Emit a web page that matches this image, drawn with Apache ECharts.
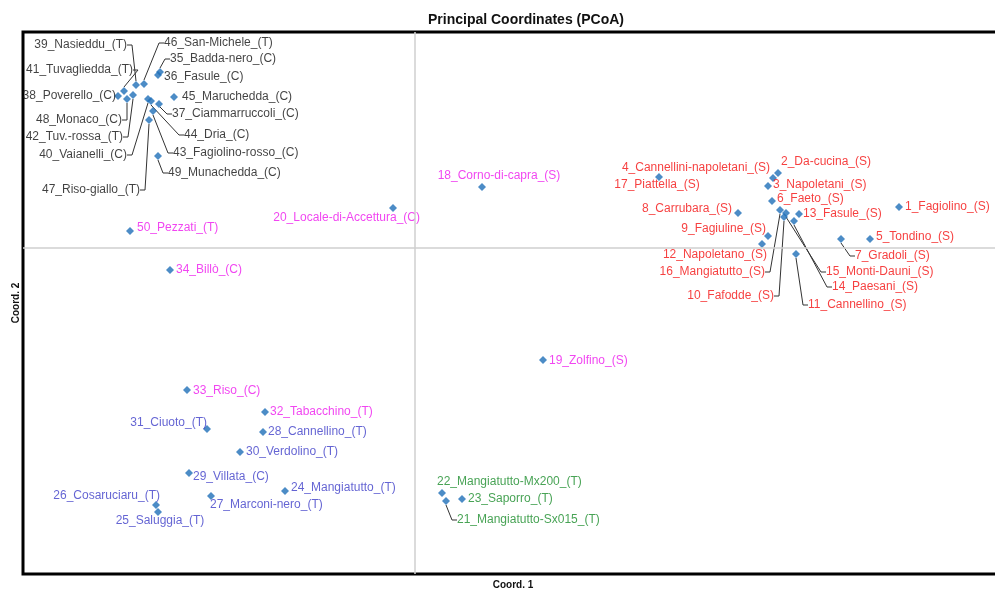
<!DOCTYPE html>
<html>
<head>
<meta charset="utf-8">
<script src="https://cdn.jsdelivr.net/npm/echarts@6/dist/echarts.min.js"></script>
<style>html,body{margin:0;padding:0;background:#fff;}#c{width:995px;height:592px;}</style>
</head>
<body>
<div id="c"></div>
<script>
// ---- data ----
const names = [
  '1_Fagiolino_(S)','2_Da-cucina_(S)','3_Napoletani_(S)','4_Cannellini-napoletani_(S)','5_Tondino_(S)',
  '6_Faeto_(S)','7_Gradoli_(S)','8_Carrubara_(S)','9_Fagiuline_(S)','10_Fafodde_(S)',
  '11_Cannellino_(S)','12_Napoletano_(S)','13_Fasule_(S)','14_Paesani_(S)','15_Monti-Dauni_(S)',
  '16_Mangiatutto_(S)','17_Piattella_(S)','18_Corno-di-capra_(S)','19_Zolfino_(S)','20_Locale-di-Accettura_(C)',
  '21_Mangiatutto-Sx015_(T)','22_Mangiatutto-Mx200_(T)','23_Saporro_(T)','24_Mangiatutto_(T)','25_Saluggia_(T)',
  '26_Cosaruciaru_(T)','27_Marconi-nero_(T)','28_Cannellino_(T)','29_Villata_(C)','30_Verdolino_(T)',
  '31_Ciuoto_(T)','32_Tabacchino_(T)','33_Riso_(C)','34_Billò_(C)','35_Badda-nero_(C)',
  '36_Fasule_(C)','37_Ciammarruccoli_(C)','38_Poverello_(C)','39_Nasieddu_(T)','40_Vaianelli_(C)',
  '41_Tuvagliedda_(T)','42_Tuv.-rossa_(T)','43_Fagiolino-rosso_(C)','44_Dria_(C)','45_Maruchedda_(C)',
  '46_San-Michele_(T)','47_Riso-giallo_(T)','48_Monaco_(C)','49_Munachedda_(C)','50_Pezzati_(T)'
];
const coord1 = [
  0.484, 0.363, 0.353, 0.358, 0.455,
  0.357, 0.426, 0.323, 0.353, 0.369,
  0.381, 0.347, 0.384, 0.379, 0.371,
  0.365, 0.244, 0.067, 0.128, -0.022,
  0.031, 0.027, 0.047, -0.130, -0.257,
  -0.259, -0.204, -0.152, -0.226, -0.175,
  -0.208, -0.150, -0.228, -0.245, -0.255,
  -0.257, -0.256, -0.297, -0.279, -0.267,
  -0.291, -0.282, -0.262, -0.264, -0.241,
  -0.271, -0.266, -0.288, -0.257, -0.285
];
const coord2 = [
  0.041, 0.075, 0.062, 0.070, 0.009,
  0.047, 0.009, 0.035, 0.012, 0.031,
  -0.006, 0.004, 0.034, 0.027, 0.035,
  0.038, 0.071, 0.061, -0.112, 0.040,
  -0.253, -0.245, -0.251, -0.243, -0.264,
  -0.257, -0.248, -0.184, -0.225, -0.204,
  -0.181, -0.164, -0.142, -0.022, 0.176,
  0.173, 0.144, 0.152, 0.163, 0.149,
  0.157, 0.153, 0.137, 0.147, 0.151,
  0.164, 0.128, 0.149, 0.092, 0.017
];
// label colour group of each accession
const groups = [
  'S','S','S','S','S','S','S','S','S','S','S','S','S','S','S','S','S',
  'M','M','M',
  'G','G','G',
  'T','T','T','T','T','T','T','T',
  'M','M','M',
  'K','K','K','K','K','K','K','K','K','K','K','K','K','K','K',
  'M'
];

// ---- layout / style (not data) ----
const groupColor = { S: '#f41010', M: '#ee18ee', T: '#3d3dc8', G: '#1a8c2a', K: '#111111' };
// label offset from marker centre: [dx, dy, align, leader]
const labelPlacement = [
  [6,0,'left',0],[3,-11,'left',0],[5,-1,'left',0],[-3,-10,'right',0],[6,-2,'left',0],
  [5,-2,'left',0],[14,17,'left',1],[-6,-4,'right',0],[-2,-7,'right',0],[-10,79,'right',1],
  [12,51,'left',1],[5,11,'right',0],[4,0,'left',0],[38,66,'left',1],[40,59,'left',1],
  [-15,62,'right',1],[-2,8,'center',0],[17,-11,'center',0],[6,1,'left',0],[27,10,'right',0],
  [11,19,'left',1],[-5,-11,'left',0],[6,0,'left',0],[6,-3,'left',0],[2,9,'center',0],
  [4,-9,'right',0],[-1,9,'left',0],[5,0,'left',0],[4,4,'left',0],[6,0,'left',0],
  [0,-6,'right',0],[5,0,'left',0],[6,1,'left',0],[6,0,'left',0],[10,-13,'left',1],
  [6,2,'left',0],[13,10,'left',1],[-2,0,'right',0],[-9,-40,'right',1],[-21,56,'right',1],
  [9,-21,'right',1],[-10,42,'right',1],[20,42,'left',1],[33,34,'left',1],[8,0,'left',0],
  [20,-41,'left',1],[-9,70,'right',1],[-5,21,'right',1],[10,17,'left',1],[7,-3,'left',0]
];

const points = names.map((n, i) => ({
  name: n,
  value: [coord1[i], coord2[i]],
  label: { color: groupColor[groups[i]] },
  labelLine: { show: !!labelPlacement[i][3] }
}));

const chart = echarts.init(document.getElementById('c'));
chart.setOption({
  animation: false,
  backgroundColor: '#fff',
  title: {
    text: 'Principal Coordinates (PCoA)',
    left: 521, top: 8, textAlign: 'center',
    textStyle: { fontFamily: 'Liberation Sans, Arial, sans-serif', fontSize: 14, fontWeight: 'bold', color: '#111' }
  },
  grid: {
    left: 23, top: 32, bottom: 18, right: -8,
    outerBoundsMode: 'none',
    containLabel: false,
    show: true, borderColor: '#000', borderWidth: 3, backgroundColor: '#fff'
  },
  xAxis: {
    type: 'value', min: -0.392, max: 0.588,
    name: 'Coord. 1', nameLocation: 'middle', nameGap: 6,
    nameTextStyle: { fontFamily: 'Liberation Sans, Arial, sans-serif', fontSize: 10, fontWeight: 'bold', color: '#111' },
    axisLine: { show: false }, axisTick: { show: false }, axisLabel: { show: false }, splitLine: { show: false }
  },
  yAxis: {
    type: 'value', min: -0.326, max: 0.216,
    name: 'Coord. 2', nameLocation: 'middle', nameGap: 2,
    nameTextStyle: { fontFamily: 'Liberation Sans, Arial, sans-serif', fontSize: 10, fontWeight: 'bold', color: '#111' },
    axisLine: { show: false }, axisTick: { show: false }, axisLabel: { show: false }, splitLine: { show: false }
  },
  series: [{
    type: 'scatter',
    symbol: 'diamond',
    symbolSize: 8,
    itemStyle: { color: '#1f6fb8' },
    data: points,
    label: {
      show: true,
      formatter: '{b}',
      fontFamily: 'Liberation Sans, Arial, sans-serif',
      fontSize: 12
    },
    labelLine: { show: false, length2: 5, lineStyle: { color: '#333', width: 1 } },
    labelLayout: function (p) {
      const pl = labelPlacement[p.dataIndex];
      const cx = p.rect.x + p.rect.width / 2;
      const cy = p.rect.y + p.rect.height / 2;
      return { x: cx + pl[0], y: cy + pl[1], align: pl[2], verticalAlign: 'middle' };
    },
    markLine: {
      silent: true,
      symbol: 'none',
      label: { show: false },
      lineStyle: { color: '#cfcfcf', width: 1.5, type: 'solid' },
      data: [{ xAxis: 0 }, { yAxis: 0 }]
    },
    z: 3
  }]
});
</script>
</body>
</html>
